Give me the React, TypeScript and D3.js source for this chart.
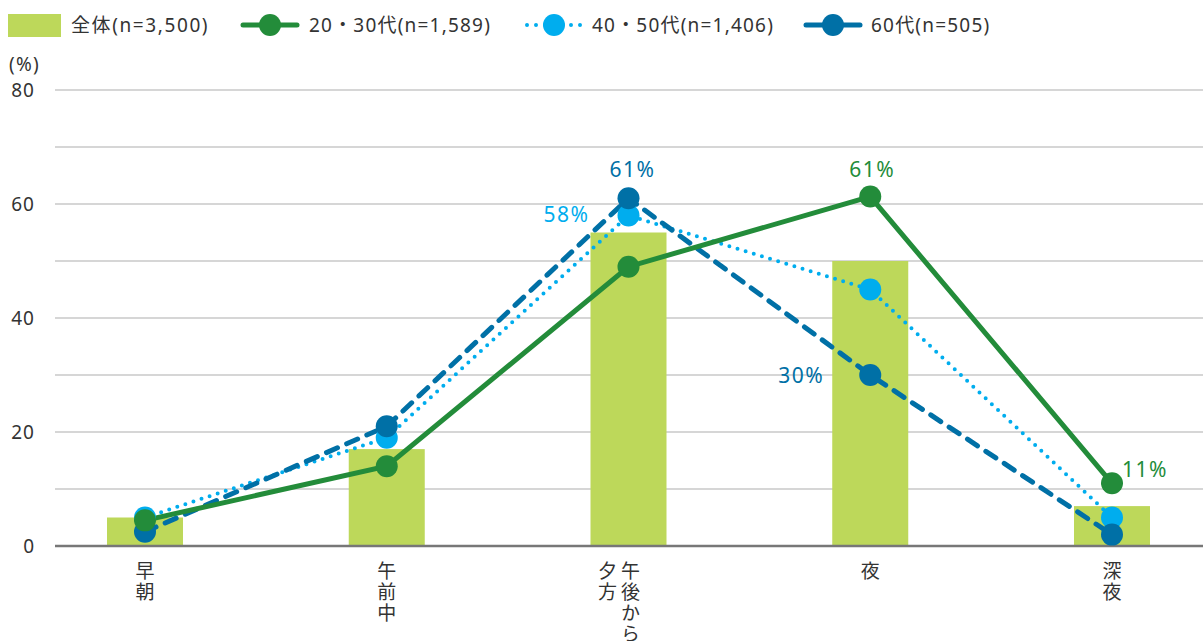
import { useEffect, useRef } from 'react'
import * as d3 from 'd3'

const categories = ['早朝', '午前中', '午後から夕方', '夜', '深夜']
// vertical label columns (right to left)
const catColumns = [['早朝'], ['午前中'], ['午後から', '夕方'], ['夜'], ['深夜']]
const allAges = [5, 17, 55, 50, 7]
const age2030 = [4.5, 14, 49, 61.3, 11]
const age4050 = [5, 19, 58, 45, 5]
const age60 = [2.5, 21, 61, 30, 2]
const yTicks = [0, 20, 40, 60, 80]
const gridTicks = [10, 20, 30, 40, 50, 60, 70, 80]

const FONT = '"Noto Sans", "Noto Sans CJK JP", sans-serif'
const CJK = '"Noto Sans CJK JP", sans-serif'
const BAR = '#bdd85a'
const GREEN = '#238c3a'
const LIGHT = '#00adee'
const DARK = '#0070a6'

const series = [
  { name: '40・50代(n=1,406)', values: age4050, color: LIGHT, width: 4, dash: '0 8.5' },
  { name: '60代(n=505)', values: age60, color: DARK, width: 5, dash: '12 10' },
  { name: '20・30代(n=1,589)', values: age2030, color: GREEN, width: 5, dash: null },
]

export default function App() {
  const ref = useRef<SVGSVGElement>(null)

  useEffect(() => {
    const svg = d3.select(ref.current)
    svg.selectAll('*').remove()

    const x = d3.scalePoint<string>().domain(categories).range([145, 1112])
    const y = d3.scaleLinear().domain([0, 80]).range([546, 90])

    // grid
    svg.append('g').selectAll('line')
      .data(gridTicks)
      .join('line')
      .attr('x1', 55).attr('x2', 1203)
      .attr('y1', d => y(d)).attr('y2', d => y(d))
      .attr('stroke', '#c8c8c8').attr('stroke-width', 1.5)

    svg.append('g').selectAll('text')
      .data(yTicks)
      .join('text')
      .attr('x', 35).attr('y', d => y(d) + 7)
      .attr('text-anchor', 'end')
      .attr('font-size', 19).attr('fill', '#333')
      .attr('letter-spacing', 1)
      .style('font-family', FONT)
      .text(d => d)

    svg.append('text')
      .attr('x', 9).attr('y', 71)
      .attr('font-size', 19).attr('fill', '#333')
      .attr('letter-spacing', 1.2)
      .style('font-family', FONT)
      .text('(%)')

    // bars
    svg.append('g').selectAll('rect')
      .data(allAges)
      .join('rect')
      .attr('x', (d, i) => x(categories[i])! - 38)
      .attr('width', 76)
      .attr('y', d => y(d))
      .attr('height', d => y(0) - y(d))
      .attr('fill', BAR)

    // baseline
    svg.append('line')
      .attr('x1', 55).attr('x2', 1203)
      .attr('y1', y(0)).attr('y2', y(0))
      .attr('stroke', '#777').attr('stroke-width', 2.5)

    // x labels, vertical writing
    const xl = svg.append('g')
    catColumns.forEach((cols, i) => {
      const cx = x(categories[i])!
      cols.forEach((col, c) => {
        const colX = cx + (cols.length > 1 ? 2 - c * 23 : 0)
        xl.append('text')
          .attr('x', colX).attr('y', 561)
          .attr('font-size', 19).attr('fill', '#333')
          .attr('letter-spacing', 2)
          .style('writing-mode', 'vertical-rl')
          .style('font-family', CJK)
          .text(col)
      })
    })

    // lines
    const line = d3.line<number>()
      .x((d, i) => x(categories[i])!)
      .y(d => y(d))

    series.forEach(s => {
      const p = svg.append('path')
        .attr('d', line(s.values))
        .attr('fill', 'none')
        .attr('stroke', s.color)
        .attr('stroke-width', s.width)
        .attr('stroke-linecap', 'round')
      if (s.dash) p.attr('stroke-dasharray', s.dash)
    })
    series.forEach(s => {
      svg.append('g').selectAll('circle')
        .data(s.values)
        .join('circle')
        .attr('cx', (d, i) => x(categories[i])!)
        .attr('cy', d => y(d))
        .attr('r', 11)
        .attr('fill', s.color)
    })

    // value labels
    const labels = [
      { cat: 2, v: age60[2], text: '61%', color: DARK, dx: 4, dy: -21, anchor: 'middle' },
      { cat: 2, v: age4050[2], text: '58%', color: LIGHT, dx: -39, dy: 7, anchor: 'end' },
      { cat: 3, v: age2030[3], text: '61%', color: GREEN, dx: 2, dy: -20, anchor: 'middle' },
      { cat: 3, v: age60[3], text: '30%', color: DARK, dx: -46, dy: 8, anchor: 'end' },
      { cat: 4, v: age2030[4], text: '11%', color: GREEN, dx: 10, dy: -6, anchor: 'start' },
    ]
    svg.append('g').selectAll('text')
      .data(labels)
      .join('text')
      .attr('x', d => x(categories[d.cat])! + d.dx)
      .attr('y', d => y(d.v) + d.dy)
      .attr('text-anchor', d => d.anchor)
      .attr('font-size', 21)
      .attr('letter-spacing', 1.5)
      .attr('fill', d => d.color)
      .style('font-family', FONT)
      .text(d => d.text)

    // legend
    const lg = svg.append('g').style('font-family', FONT)
    lg.append('rect').attr('x', 8).attr('y', 14).attr('width', 53).attr('height', 23).attr('fill', BAR)
    lg.append('text').attr('x', 71).attr('y', 32).attr('font-size', 19)
      .attr('letter-spacing', 1.6).attr('fill', '#333').text('全体(n=3,500)')
    const legendItems = [
      { s: series[2], x0: 243, tx: 309 },
      { s: series[0], x0: 527, tx: 592 },
      { s: series[1], x0: 806, tx: 871 },
    ]
    legendItems.forEach(({ s, x0, tx }) => {
      const cx = x0 + 27
      ;[[x0, cx - 8], [cx + 8, x0 + 54]].forEach(([a, b]) => {
        const l = lg.append('line')
          .attr('x1', a).attr('x2', b)
          .attr('y1', 25).attr('y2', 25)
          .attr('stroke', s.color).attr('stroke-width', s.width)
          .attr('stroke-linecap', 'round')
        if (s.dash === '0 8.5') l.attr('stroke-dasharray', '0 9')
      })
      lg.append('circle').attr('cx', cx).attr('cy', 25).attr('r', 11).attr('fill', s.color)
      lg.append('text').attr('x', tx).attr('y', 32).attr('font-size', 19)
        .attr('letter-spacing', 1.2).attr('fill', '#333').text(s.name)
    })
  }, [])

  return (
    <svg ref={ref} width={1203} height={641}
      style={{ position: 'absolute', left: 0, top: 0, background: '#fff' }} />
  )
}
